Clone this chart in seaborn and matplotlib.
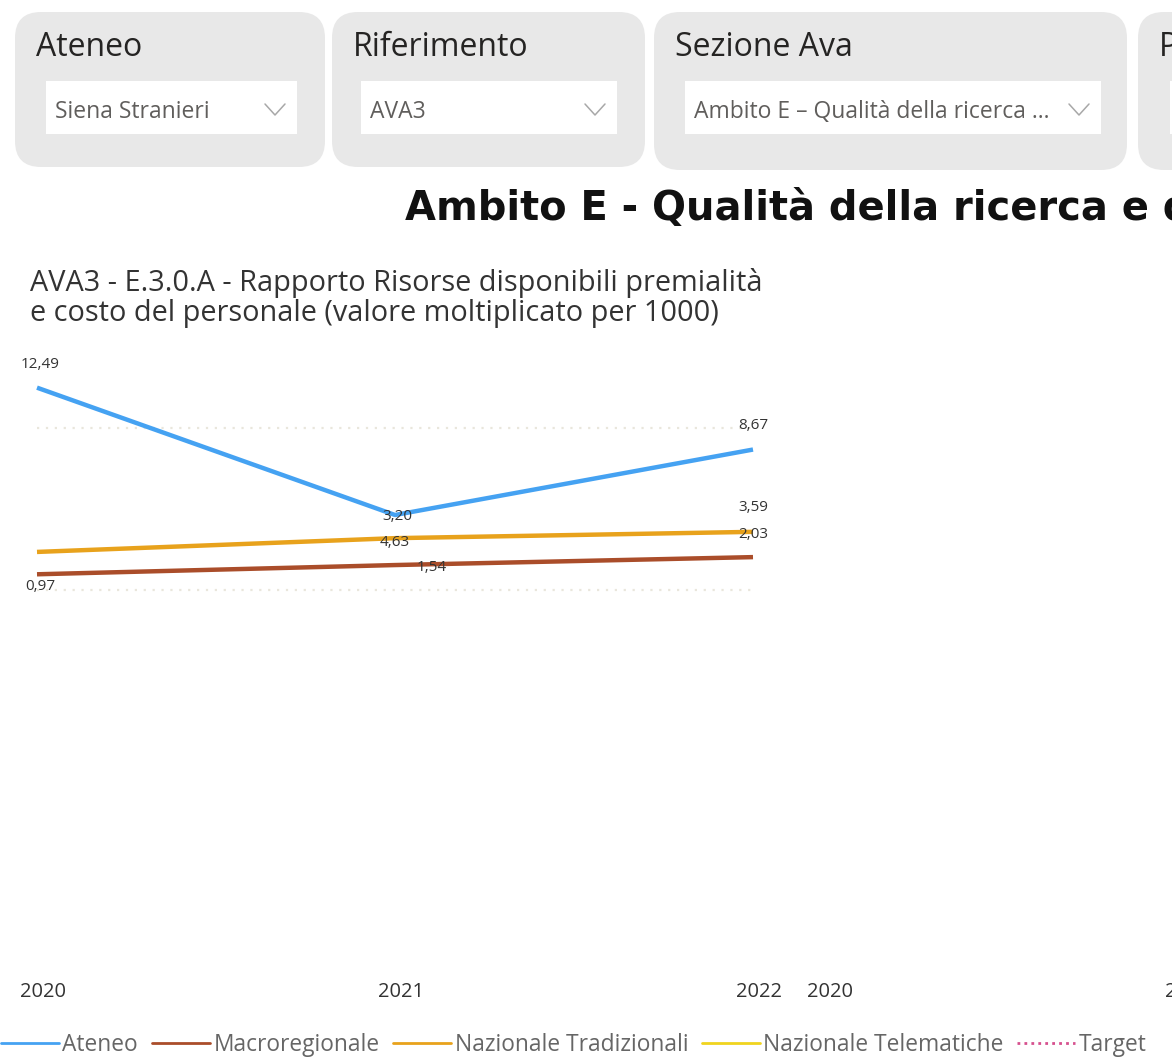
import numpy as np
import pandas as pd
import matplotlib
matplotlib.use("Agg")
import matplotlib.pyplot as plt
import matplotlib.transforms as mtransforms
from matplotlib.patches import FancyBboxPatch, Rectangle
from matplotlib.lines import Line2D
import seaborn as sns

# data
years = [2020, 2021, 2022]
ateneo = [12.49, 4.63, 8.67]
macroregionale = [0.97, 1.54, 2.03]
nazionale_tradizionali = [2.35, 3.20, 3.59]
series_names = ["Ateneo", "Macroregionale", "Nazionale Tradizionali",
                "Nazionale Telematiche", "Target"]
x_tick_labels = ["2020", "2021", "2022"]

slicer_titles = ["Ateneo", "Riferimento", "Sezione Ava", "P"]
slicer_values = ["Siena Stranieri", "AVA3", "Ambito E \u2013 Qualità della ricerca ...", ""]

page_title = "Ambito E - Qualità della ricerca e della terza missione"
chart_title = ("AVA3 - E.3.0.A - Rapporto Risorse disponibili premialità\n"
               "e costo del personale (valore moltiplicato per 1000)")

colors = {"Ateneo": "#45a2f2", "Macroregionale": "#aa4d2a",
          "Nazionale Tradizionali": "#e8a21c", "Nazionale Telematiche": "#f0d41e",
          "Target": "#d6508e"}

# label offsets in pixels (Power BI moves labels to avoid collisions)
label_offsets = {
    ("Ateneo", 2020): (3, 23), ("Ateneo", 2021): (0, -28), ("Ateneo", 2022): (0, 24),
    ("Nazionale Tradizionali", 2021): (2, 22), ("Nazionale Tradizionali", 2022): (0, 24),
    ("Macroregionale", 2020): (3, -12), ("Macroregionale", 2021): (37, -2),
    ("Macroregionale", 2022): (0, 23),
}

df = pd.concat([
    pd.DataFrame({"Anno": years, "Valore": ateneo, "Serie": "Ateneo"}),
    pd.DataFrame({"Anno": years, "Valore": macroregionale, "Serie": "Macroregionale"}),
    pd.DataFrame({"Anno": years, "Valore": nazionale_tradizionali, "Serie": "Nazionale Tradizionali"}),
], ignore_index=True)

sns.set_theme(style="white")
plt.rcParams["font.family"] = ["Open Sans", "DejaVu Sans"]

W, H = 1172, 1058
fig = plt.figure(figsize=(W / 100, H / 100), dpi=100)
fig.patch.set_facecolor("white")

# background layer in pixel coordinates
bg = fig.add_axes([0, 0, 1, 1])
bg.set_xlim(0, W)
bg.set_ylim(H, 0)
bg.axis("off")

cards = [(15, 325, 167), (332, 645, 167), (654, 1127, 170), (1138, 1400, 170)]
drops = [(46, 297), (361, 617), (685, 1101), (1170, 1400)]
for (x0, x1, y1), (d0, d1), t, v in zip(cards, drops, slicer_titles, slicer_values):
    bg.add_patch(FancyBboxPatch((x0 + 26, 12 + 26), x1 - x0 - 52, y1 - 12 - 52,
                                boxstyle="round,pad=26", fc="#e8e8e8", ec="none"))
    bg.add_patch(Rectangle((d0, 81), d1 - d0, 53, fc="white", ec="none"))
    bg.text(x0 + 21, 47, t, fontsize=23, color="#252423", va="center", ha="left")
    if v:
        bg.text(d0 + 9, 112, v, fontsize=16.5, color="#605e5c", va="center", ha="left")
        cx = d1 - 22
        bg.plot([cx - 10, cx, cx + 10], [104, 115, 104], color="#a8a8a8", lw=1.1)

bg.text(405, 209, page_title, fontsize=28.8, fontweight="bold", color="#111111",
        va="center", ha="left", family=["DejaVu Sans"])
bg.text(30, 298, chart_title, fontsize=20.8, color="#333333", va="center", ha="left",
        linespacing=1.08)

# main line chart: 2020 at px 37, 2022 at px 753; 0 at px 590, 10 at px 428
top_px, bot_px = 380, 975
px_per_unit = (590 - 428) / 10
ax = fig.add_axes([37 / W, 1 - bot_px / H, (753 - 37) / W, (bot_px - top_px) / H])
sns.lineplot(data=df, x="Anno", y="Valore", hue="Serie", palette=colors,
             linewidth=3.2, legend=False, ax=ax)
for ln in ax.lines:
    ln.set_clip_on(False)
    ln.set_solid_capstyle("butt")
ax.set_xlim(2020, 2022)
ax.set_ylim(-(bot_px - 590) / px_per_unit, (590 - top_px) / px_per_unit)
ax.set_yticks([0, 10])
ax.set_yticklabels([])
ax.set_xticks(years)
ax.set_xticklabels(x_tick_labels, fontsize=14.5, color="#333333")
ax.tick_params(axis="x", length=0, pad=5)
ax.tick_params(axis="y", length=0)
ax.set_xlabel("")
ax.set_ylabel("")
ax.grid(axis="y", color="#e9e6dc", linestyle=(0, (1, 3)), linewidth=1.6)
for s in ax.spines.values():
    s.set_visible(False)
ax.patch.set_alpha(0)
shift = mtransforms.ScaledTranslation(6 / 100, 0, fig.dpi_scale_trans)
for lab in ax.get_xticklabels():
    lab.set_transform(lab.get_transform() + shift)

for name, vals in [("Ateneo", ateneo), ("Macroregionale", macroregionale),
                   ("Nazionale Tradizionali", nazionale_tradizionali)]:
    for yr, v in zip(years, vals):
        off = label_offsets.get((name, yr))
        if off is None:
            continue
        ax.annotate(f"{v:.2f}".replace(".", ","), (yr, v),
                    xytext=(off[0] * 0.72, off[1] * 0.72), textcoords="offset points",
                    ha="center", va="center", fontsize=11, color="#333333",
                    annotation_clip=False)

# second (empty) chart on the right, mostly off-page
ax2 = fig.add_axes([830 / W, 1 - bot_px / H, (1546 - 830) / W, (bot_px - top_px) / H])
ax2.set_xlim(2020, 2022)
ax2.set_ylim(0, 1)
ax2.set_xticks(years)
ax2.set_xticklabels(x_tick_labels, fontsize=14.5, color="#333333")
ax2.set_yticks([])
ax2.tick_params(axis="x", length=0, pad=5)
ax2.grid(False)
for s in ax2.spines.values():
    s.set_visible(False)
ax2.patch.set_alpha(0)

handles = []
for name in series_names:
    ls = (0, (1, 1.5)) if name == "Target" else "-"
    handles.append(Line2D([0], [0], color=colors[name], lw=2, linestyle=ls))
fig.legend(handles, series_names, loc="lower left",
           bbox_to_anchor=(1 / W, 1 / H), ncol=5, frameon=False,
           fontsize=16.4, handlelength=2.55, handletextpad=0.15, columnspacing=0.6,
           borderpad=0, borderaxespad=0, labelcolor="#666666")

fig.savefig("out.png", dpi=100, facecolor="white")
